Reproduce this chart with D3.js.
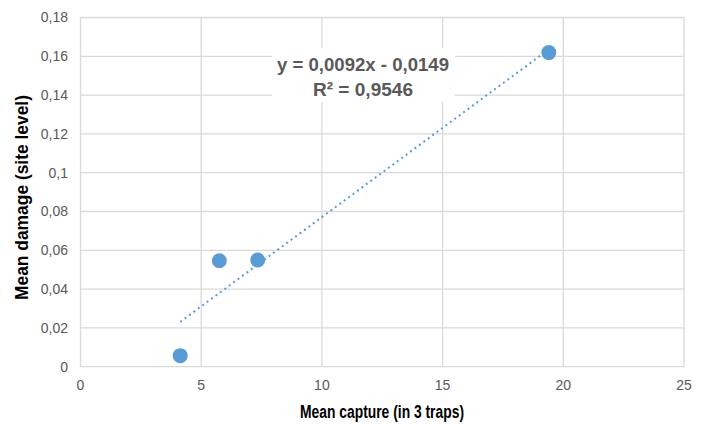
<!DOCTYPE html>
<html><head><meta charset="utf-8">
<script src="https://cdn.jsdelivr.net/npm/d3@7"></script>
<style>body{margin:0;background:#fff}svg{display:block}</style>
</head><body>
<svg id="c" width="705" height="424"></svg>
<script>
const captureX = [4.13, 5.75, 7.34, 19.4];
const damageY = [0.0057, 0.0546, 0.055, 0.1619];
const xTicks = [0, 5, 10, 15, 20, 25];
const yTicks = [0, 0.02, 0.04, 0.06, 0.08, 0.1, 0.12, 0.14, 0.16, 0.18];
const trendSlope = 0.0092, trendIntercept = -0.0149;
const eqLines = ["y = 0,0092x - 0,0149", "R² = 0,9546"];
const xTitle = "Mean capture (in 3 traps)";
const yTitle = "Mean damage (site level)";

const svg = d3.select("#c");
const L = 80.5, R = 684, T = 17.5, B = 366.7;
const x = d3.scaleLinear().domain([0, 25]).range([L, R]);
const y = d3.scaleLinear().domain([0, 0.18]).range([B, T]);
const fmt = d => d3.format(",")(d).replace(".", ",");
const grid = "#d9d9d9", txt = "#595959", col = "#5b9bd5";
const F = "'Liberation Sans', Arial, sans-serif";

svg.append("g").selectAll("line").data(yTicks).join("line")
  .attr("x1", L).attr("x2", R).attr("y1", d => y(d)).attr("y2", d => y(d))
  .attr("stroke", grid).attr("stroke-width", 1.3);
svg.append("g").selectAll("line").data(xTicks).join("line")
  .attr("y1", T).attr("y2", B).attr("x1", d => x(d)).attr("x2", d => x(d))
  .attr("stroke", grid).attr("stroke-width", 1.3);

svg.append("g").selectAll("text").data(yTicks).join("text")
  .attr("x", 68).attr("y", d => y(d)).attr("dy", "0.35em")
  .attr("text-anchor", "end").attr("fill", txt)
  .style("font", "14px " + F)
  .text(d => d === 0.1 ? "0,1" : fmt(d));
svg.append("g").selectAll("text").data(xTicks).join("text")
  .attr("x", d => x(d)).attr("y", 390).attr("text-anchor", "middle").attr("fill", txt)
  .style("font", "14px " + F)
  .text(d => d);

const x0 = d3.min(captureX), x1 = d3.max(captureX);
svg.append("line")
  .attr("x1", x(x0)).attr("y1", y(trendSlope * x0 + trendIntercept))
  .attr("x2", x(x1)).attr("y2", y(trendSlope * x1 + trendIntercept))
  .attr("stroke", col).attr("stroke-width", 2).attr("stroke-dasharray", "2,3.5");

svg.append("g").selectAll("circle").data(captureX).join("circle")
  .attr("cx", d => x(d)).attr("cy", (d, i) => y(damageY[i])).attr("r", 7.5)
  .attr("fill", col);

svg.append("rect").attr("x", 272).attr("y", 48).attr("width", 183).attr("height", 54).attr("fill", "#fff");
svg.append("g").selectAll("text").data(eqLines).join("text")
  .attr("x", 363).attr("y", (d, i) => 71 + i * 25).attr("text-anchor", "middle").attr("fill", txt)
  .style("font", "bold 18.5px " + F)
  .attr("textLength", (d, i) => i === 0 ? 172 : 100).attr("lengthAdjust", "spacingAndGlyphs")
  .text(d => d);

svg.append("text").attr("x", 382).attr("y", 418).attr("text-anchor", "middle").attr("fill", "#000")
  .style("font", "bold 18px " + F)
  .attr("textLength", 164).attr("lengthAdjust", "spacingAndGlyphs").text(xTitle);
svg.append("text").attr("transform", "translate(28,197.5) rotate(-90)").attr("text-anchor", "middle").attr("fill", "#000")
  .style("font", "bold 18px " + F)
  .attr("textLength", 205).attr("lengthAdjust", "spacingAndGlyphs").text(yTitle);
</script>
</body></html>
